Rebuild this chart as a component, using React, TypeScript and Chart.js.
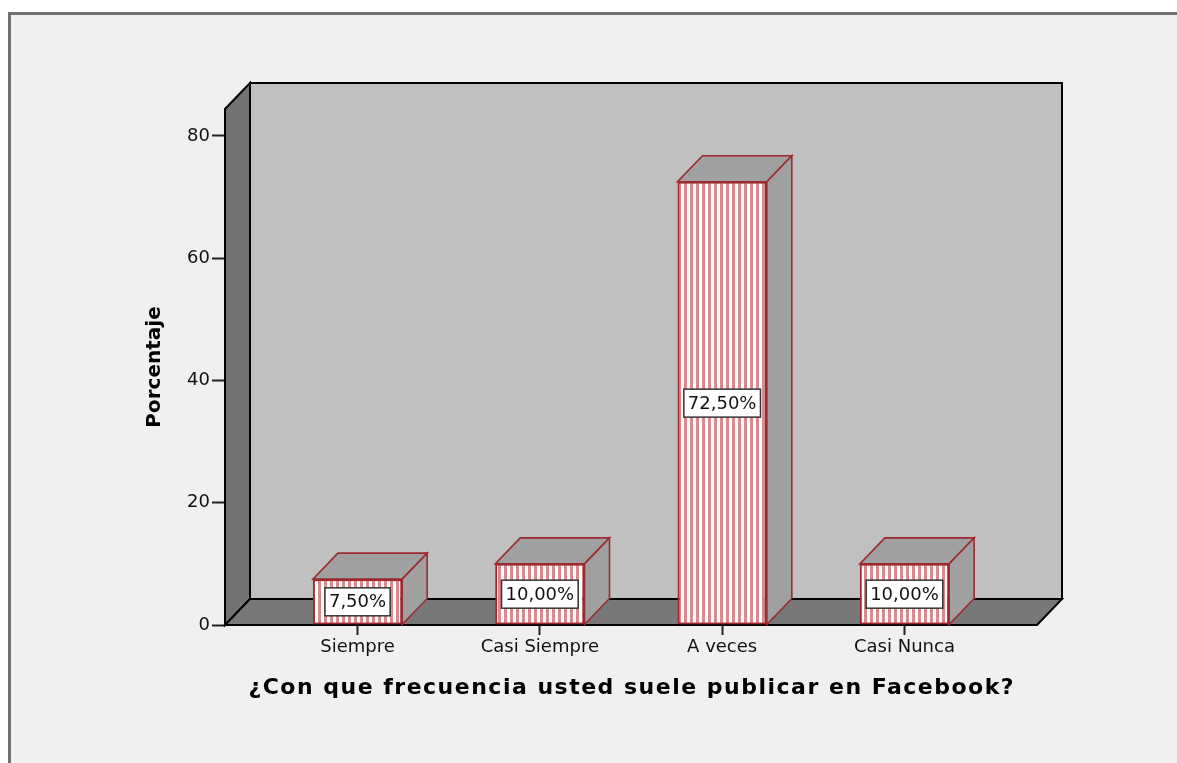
import React, { useEffect, useRef } from "react";
import { Chart, registerables } from "chart.js";

Chart.register(...registerables);

const categories = ["Siempre", "Casi Siempre", "A veces", "Casi Nunca"];
const percentages = [7.5, 10.0, 72.5, 10.0];
const valueLabels = ["7,50%", "10,00%", "72,50%", "10,00%"];
const yTickValues = [0, 20, 40, 60, 80];
const xTitle = "¿Con que frecuencia usted suele publicar en Facebook?";
const yTitle = "Porcentaje";

const W = 1177;
const H = 763;
const DX = 25;
const DY = 26;
const FONT = '"DejaVu Sans", "Liberation Sans", Arial, sans-serif';

function makeStripes(): CanvasPattern | string {
  const c = document.createElement("canvas");
  c.width = 6;
  c.height = 4;
  const g = c.getContext("2d");
  if (!g) return "#d9898d";
  g.fillStyle = "#ffffff";
  g.fillRect(0, 0, 6, 4);
  g.fillStyle = "#d88a8e";
  g.fillRect(0, 0, 3, 4);
  const p = g.createPattern(c, "repeat");
  return p || "#d9898d";
}

function poly(ctx: CanvasRenderingContext2D, pts: number[][]) {
  ctx.beginPath();
  ctx.moveTo(pts[0][0], pts[0][1]);
  for (let i = 1; i < pts.length; i++) ctx.lineTo(pts[i][0], pts[i][1]);
  ctx.closePath();
}

const wallsPlugin = {
  id: "walls3d",
  beforeDatasetsDraw(chart: any) {
    const { ctx } = chart;
    const { left, right, top, bottom } = chart.chartArea;
    ctx.save();
    ctx.lineWidth = 2;
    ctx.strokeStyle = "#000";
    ctx.lineJoin = "miter";
    // back wall
    ctx.fillStyle = "#c0c0c0";
    poly(ctx, [
      [left + DX, top - DY],
      [right + DX, top - DY],
      [right + DX, bottom - DY],
      [left + DX, bottom - DY],
    ]);
    ctx.fill();
    ctx.stroke();
    // left wall
    ctx.fillStyle = "#737373";
    poly(ctx, [
      [left, bottom],
      [left, top],
      [left + DX, top - DY],
      [left + DX, bottom - DY],
    ]);
    ctx.fill();
    ctx.stroke();
    // floor
    ctx.fillStyle = "#787878";
    poly(ctx, [
      [left, bottom],
      [right, bottom],
      [right + DX, bottom - DY],
      [left + DX, bottom - DY],
    ]);
    ctx.fill();
    ctx.stroke();
    ctx.restore();
  },
  afterDatasetsDraw(chart: any) {
    const { ctx } = chart;
    const meta = chart.getDatasetMeta(0);
    ctx.save();
    meta.data.forEach((el: any, i: number) => {
      const { x, y, base, width } = el.getProps(["x", "y", "base", "width"], true);
      const x1 = x - width / 2;
      const x2 = x + width / 2;
      ctx.lineWidth = 1.6;
      ctx.strokeStyle = "#9b2b2e";
      ctx.fillStyle = "#a0a0a0";
      // top face
      poly(ctx, [
        [x1, y],
        [x2, y],
        [x2 + DX, y - DY],
        [x1 + DX, y - DY],
      ]);
      ctx.fill();
      ctx.stroke();
      // side face
      ctx.fillStyle = "#a0a0a0";
      poly(ctx, [
        [x2, y],
        [x2 + DX, y - DY],
        [x2 + DX, base - DY],
        [x2, base],
      ]);
      ctx.fill();
      ctx.stroke();

      // value label
      const text = valueLabels[i];
      ctx.font = `18px ${FONT}`;
      const tw = ctx.measureText(text).width;
      const bw = tw + 8;
      const bh = 28;
      const cy = (y + base) / 2;
      ctx.fillStyle = "#ffffff";
      ctx.fillRect(x - bw / 2, cy - bh / 2, bw, bh);
      ctx.lineWidth = 1.5;
      ctx.strokeStyle = "#333333";
      ctx.strokeRect(x - bw / 2, cy - bh / 2, bw, bh);
      ctx.fillStyle = "#111111";
      ctx.textAlign = "center";
      ctx.textBaseline = "middle";
      ctx.fillText(text, x, cy + 1);
    });
    ctx.restore();
  },
  afterDraw(chart: any) {
    const { ctx } = chart;
    const { left, right } = chart.chartArea;
    ctx.save();
    ctx.font = `bold 22px ${FONT}`;
    (ctx as any).letterSpacing = "1.5px";
    ctx.fillStyle = "#000";
    ctx.textAlign = "center";
    ctx.textBaseline = "middle";
    ctx.fillText(xTitle, (left + right) / 2 + 0.75, 688);
    ctx.restore();
  },
};

export default function App() {
  const ref = useRef<HTMLCanvasElement | null>(null);

  useEffect(() => {
    if (!ref.current) return;
    const stripes = makeStripes();
    const chart = new Chart(ref.current, {
      type: "bar",
      data: {
        datasets: [
          {
            data: percentages.map((v, i) => ({ x: i, y: v })),
            backgroundColor: stripes as any,
            borderColor: "#a3262b",
            borderWidth: 2,
            borderSkipped: false,
            barPercentage: 0.49,
            categoryPercentage: 1,
          },
        ],
      },
      options: {
        responsive: false,
        animation: false,
        devicePixelRatio: 1,
        layout: { padding: { top: 109, right: 140, left: 0, bottom: 0 } },
        plugins: {
          legend: { display: false },
          tooltip: { enabled: false },
          title: { display: false },
        },
        scales: {
          x: {
            type: "linear",
            offset: false,
            min: -0.727,
            max: 3.727,
            afterBuildTicks: (axis: any) => {
              axis.ticks = categories.map((_, i) => ({ value: i }));
            },
            afterFit: (scale: any) => {
              scale.height = H - 625;
            },
            border: { display: false },
            grid: {
              offset: false,
              drawOnChartArea: false,
              drawTicks: true,
              tickLength: 10,
              tickColor: "#222",
              tickWidth: 2,
            },
            ticks: {
              padding: 2,
              color: "#111",
              font: { family: FONT, size: 18 },
              callback: (v: any) => categories[Math.round(Number(v))],
              maxRotation: 0,
              autoSkip: false,
            },
            title: { display: false, text: xTitle },
          },
          y: {
            min: 0,
            max: 84.4,
            afterBuildTicks: (axis: any) => {
              axis.ticks = yTickValues.map((v) => ({ value: v }));
            },
            afterFit: (scale: any) => {
              scale.width = 225;
            },
            border: { display: false },
            grid: {
              drawOnChartArea: false,
              drawTicks: true,
              tickLength: 13,
              tickColor: "#222",
              tickWidth: 2,
            },
            ticks: {
              padding: 2,
              color: "#111",
              font: { family: FONT, size: 18 },
            },
            title: {
              display: true,
              text: yTitle,
              color: "#000",
              font: { family: FONT, size: 20, weight: "bold" },
              padding: { top: 143, bottom: 0 },
            },
          },
        },
      },
      plugins: [wallsPlugin],
    } as any);
    return () => chart.destroy();
  }, []);

  return (
    <div
      style={{
        position: "fixed",
        left: 0,
        top: 0,
        width: W,
        height: H,
        background: "#ffffff",
        overflow: "hidden",
      }}
    >
      <div
        style={{
          position: "absolute",
          left: 8,
          top: 12,
          width: 1400,
          height: 1000,
          boxSizing: "border-box",
          background: "#f0f0f0",
          borderLeft: "3px solid #6f6f6f",
          borderTop: "3px solid #6f6f6f",
        }}
      />
      <canvas
        ref={ref}
        width={W}
        height={H}
        style={{ position: "absolute", left: 0, top: 0, width: W, height: H }}
      />
    </div>
  );
}
